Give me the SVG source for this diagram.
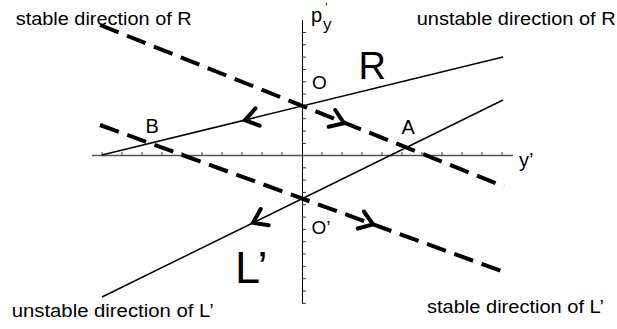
<svg xmlns="http://www.w3.org/2000/svg" width="617" height="329" viewBox="0 0 617 329">
<style>
text{font-family:"Liberation Sans",Arial,sans-serif;fill:#000}
.lbl{font-size:17.5px}
.pt{font-size:20px}
.axis{stroke:#000;stroke-width:1;fill:none}
.haxis{stroke:#555;stroke-width:1.3;fill:none}
.tick{stroke:#333;stroke-width:1;fill:none}
.solid{stroke:#000;stroke-width:1.5;fill:none}
.dash{stroke:#000;stroke-width:4;fill:none;stroke-dasharray:20 9}
.chev{stroke:#000;stroke-width:4;fill:none;stroke-linecap:round;stroke-linejoin:miter}
</style>
<rect width="617" height="329" fill="#fff"/>
<g id="axes">
<line class="haxis" x1="92" y1="155.5" x2="513" y2="155.5"/>
<line class="axis" x1="302.5" y1="20" x2="302.5" y2="304"/>
<path class="tick" d="M102,155V152M122,155V152M142,155V152M162,155V152M182,155V152M202,155V152M222,155V152M242,155V152M262,155V152M282,155V152M322,155V152M342,155V152M362,155V152M382,155V152M402,155V152M422,155V152M442,155V152M462,155V152M482,155V152M502,155V152"/>
<path class="tick" d="M302,32.5H306M302,44.8H306M302,57.1H306M302,69.5H306M302,81.8H306M302,94.1H306M302,106.4H306M302,118.7H306M302,131.1H306M302,143.4H306M302,167.8H306M302,180.1H306M302,192.4H306M302,204.7H306M302,217.1H306M302,229.4H306M302,241.7H306M302,254H306M302,266.3H306M302,278.7H306M302,291H306M302,303.3H306"/>
<text x="311" y="22" style="font-size:20px">p</text>
<text x="325" y="12" style="font-size:12px">’</text>
<text x="323" y="30" style="font-size:17px">y</text>
<text x="519" y="167" style="font-size:20px">y’</text>
</g>
<g id="connectors">
<line id="lineR" class="solid" x1="102" y1="155" x2="503" y2="57"/>
<line id="lineL" class="solid" x1="102" y1="297" x2="503" y2="100"/>
<line id="stableR" class="dash" x1="100" y1="25" x2="504" y2="186.5"/>
<line id="stableL" class="dash" x1="100" y1="125" x2="504" y2="272"/>
<polyline class="chev" points="255.5,108.3 245,120.1 259.7,125.7"/>
<polyline class="chev" points="335.2,110 344,123.2 328.6,126.8"/>
<polyline class="chev" points="260.7,209 253,222.8 268.7,225.2"/>
<polyline class="chev" points="363.9,211.5 373,224.4 357.7,228.5"/>
</g>
<g id="node-R"><text x="358.5" y="79.3" style="font-size:38px">R</text></g>
<g id="node-L"><text x="235" y="283.3" style="font-size:45px">L’</text></g>
<g id="node-O"><text x="312" y="89" style="font-size:19px">O</text></g>
<g id="node-O2"><text x="311.5" y="234" style="font-size:19px">O’</text></g>
<g id="node-A"><text x="401.5" y="134.3" class="pt">A</text></g>
<g id="node-B"><text x="145.5" y="133.3" class="pt">B</text></g>
<g id="labels">
<text class="lbl" x="15.7" y="25" textLength="176" lengthAdjust="spacingAndGlyphs">stable direction of R</text>
<text class="lbl" x="416.7" y="25" textLength="199" lengthAdjust="spacingAndGlyphs">unstable direction of R</text>
<text class="lbl" x="11.7" y="316.7" textLength="202" lengthAdjust="spacingAndGlyphs">unstable direction of L’</text>
<text class="lbl" x="427" y="313.3" textLength="177" lengthAdjust="spacingAndGlyphs">stable direction of L’</text>
</g>
</svg>
